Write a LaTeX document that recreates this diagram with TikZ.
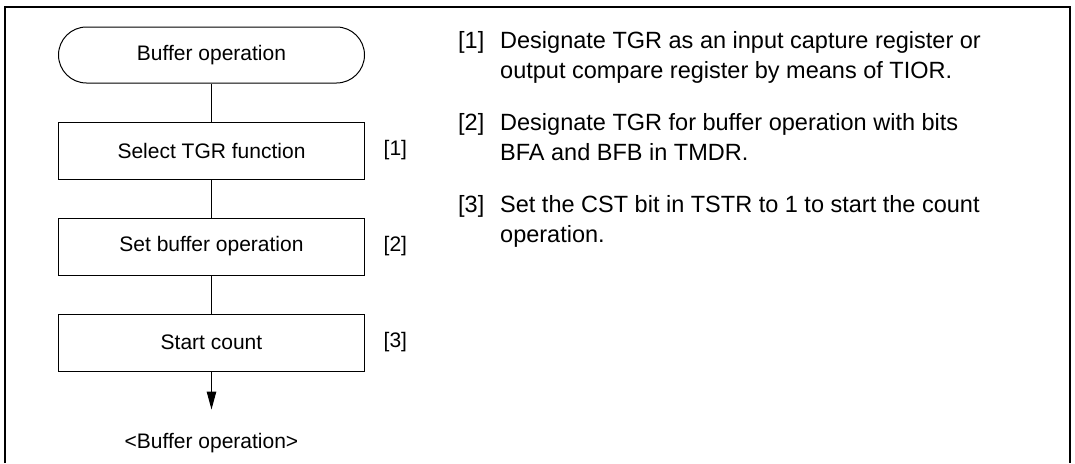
\documentclass[tikz,border=0pt]{standalone}
\usepackage{fontspec}
\setmainfont{Liberation Sans}
\usetikzlibrary{arrows.meta, positioning}
\tikzset{
    % Terminal (start) style
    terminal/.style={
        rectangle,
        rounded corners=28pt,
        draw=black,
        line width=1pt,
        minimum width=306pt,
        minimum height=56pt,
        inner sep=0pt,
        align=center,
        font=\fontsize{21}{25}\selectfont
    },
    % Process box style
    process/.style={
        rectangle,
        draw=black,
        line width=1pt,
        minimum width=306pt,
        minimum height=57pt,
        inner sep=0pt,
        align=center,
        font=\fontsize{21}{25}\selectfont
    },
    % Step number beside a box
    steptag/.style={
        inner sep=0pt,
        font=\fontsize{21}{25}\selectfont
    },
    % Step number in the notes
    notetag/.style={
        inner sep=0pt,
        anchor=north west,
        font=\fontsize{23.5}{30}\selectfont
    },
    % Note text
    note/.style={
        inner sep=0pt,
        anchor=north west,
        align=left,
        font=\fontsize{23.5}{30}\selectfont
    },
    % Plain connector
    link/.style={
        draw=black,
        line width=1pt
    },
    % Arrow style
    arrow/.style={
        -{Triangle[length=18pt,width=9.5pt]},
        line width=1pt,
        color=black
    },
    % Outer frame
    frameline/.style={
        line width=2pt
    }
}
\begin{document}
\begin{tikzpicture}[x=1pt, y=1pt, node distance=38pt]
    \useasboundingbox (0,0) rectangle (1075,-463);

    % Frame, open at the bottom
    \draw [frameline] (5,-463) |- (1070,-7) -- (1070,-463);

    % Flow
    \node (start) [terminal] at (211.5,-55) {Buffer operation};
    \node (b1) [process, below=of start] {Select TGR function};
    \node (b2) [process, below=of b1] {Set buffer operation};
    \node (b3) [process, below=of b2] {Start count};
    \coordinate [below=of b3] (tip);
    \node (result) [steptag, below=24pt of tip] {<Buffer operation>};

    \node (k1) [steptag, right=18.5pt of b1] {[1]};
    \node (k2) [steptag, right=18.5pt of b2] {[2]};
    \node (k3) [steptag, right=18.5pt of b3] {[3]};

    \draw [link] (start) -- (b1);
    \draw [link] (b1) -- (b2);
    \draw [link] (b2) -- (b3);
    \draw [arrow] (b3) -- (tip);

    % Notes
    \node (n1) [notetag] at (458,-31) {[1]};
    \node (d1) [note] at (500,-31) {Designate TGR as an input capture register or\\output compare register by means of TIOR.};
    \node (n2) [notetag] at (458,-113) {[2]};
    \node (d2) [note] at (500,-113) {Designate TGR for buffer operation with bits\\BFA and BFB in TMDR.};
    \node (n3) [notetag] at (458,-195) {[3]};
    \node (d3) [note] at (500,-195) {Set the CST bit in TSTR to 1 to start the count\\operation.};
\end{tikzpicture}
\end{document}
